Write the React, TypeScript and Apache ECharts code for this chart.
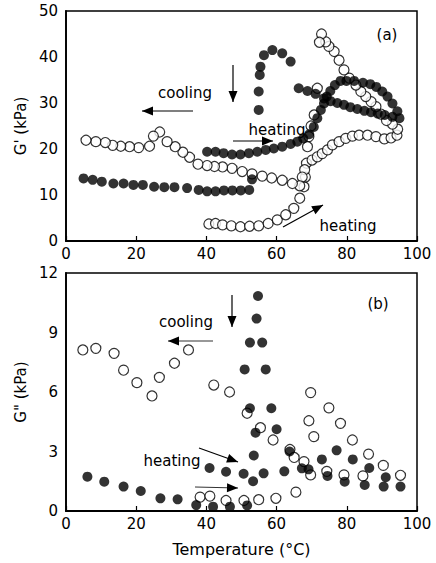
import React, { useEffect, useRef } from "react";
import * as echarts from "echarts";

// Tick values
const temperatureTicks = [0, 20, 40, 60, 80, 100];
const gPrimeTicks = [0, 10, 20, 30, 40, 50];
const gDoublePrimeTicks = [0, 3, 6, 9, 12];

// Panel (a) G' (kPa) vs temperature (°C)
const aOpenHeating: [number, number][] = [
  [40.7, 3.7], [42.6, 3.8], [44.6, 3.5], [47.1, 3.3], [49.7, 3.1], [52.3, 3.2], [54.9, 3.3],
  [57.6, 3.8], [60.2, 4.6], [62.6, 5.7], [64.9, 7.1], [66.6, 9.3], [67.8, 11.8], [68.2, 13.9],
  [68.5, 16.9], [70.1, 17.6], [71.6, 18.3], [73.0, 19.0], [74.5, 19.8], [75.9, 20.9], [77.8, 21.6],
  [79.7, 22.3], [81.6, 22.8], [83.5, 23.0], [85.9, 23.0], [88.3, 22.7], [90.7, 22.2], [92.6, 22.4],
  [94.3, 23.0],
];
const aOpenCooling: [number, number][] = [
  [94.5, 24.3], [93.0, 25.4], [91.3, 26.2], [89.7, 27.6], [88.3, 29.2], [86.9, 30.3], [85.4, 31.4],
  [84.0, 32.5], [82.6, 33.9], [80.7, 35.4], [79.2, 37.2], [77.8, 39.3], [76.4, 41.2], [74.9, 42.3],
  [74.0, 43.3], [72.8, 45.0], [72.2, 43.2], [71.6, 33.2], [70.7, 27.4], [69.8, 25.0], [69.2, 22.7],
  [68.8, 20.5], [68.0, 15.5], [67.3, 13.9], [66.6, 12.0], [64.5, 12.5], [61.6, 13.2], [58.6, 13.7],
  [55.9, 14.1], [53.0, 14.6], [50.2, 15.1], [47.3, 15.8], [44.6, 16.1], [42.3, 16.2], [40.2, 16.4],
  [37.6, 16.7], [35.2, 18.2], [33.3, 19.3], [31.1, 20.5], [28.8, 21.6], [26.7, 23.7], [24.9, 22.8],
  [23.8, 20.6], [20.7, 20.3], [18.1, 20.5], [15.6, 20.6], [13.3, 20.8], [11.2, 21.4], [8.5, 21.6],
  [5.7, 21.9],
];
const aFilledHeating: [number, number][] = [
  [40.2, 19.4], [42.6, 19.4], [44.9, 19.1], [47.3, 18.8], [49.7, 18.8], [52.1, 19.1], [54.5, 19.4],
  [56.9, 19.8], [59.2, 20.1], [61.6, 20.5], [64.0, 21.1], [65.9, 21.6], [67.6, 22.3], [69.3, 23.2],
  [70.6, 24.8], [71.6, 26.7], [72.6, 28.5], [73.5, 29.9], [74.3, 31.4], [75.3, 32.6], [76.6, 33.9],
  [78.2, 34.8], [79.9, 34.8], [82.1, 34.8], [84.6, 34.4], [86.7, 34.1], [88.4, 33.5], [90.1, 32.5],
  [91.6, 31.4], [93.0, 29.9], [94.4, 28.2],
];
const aFilledCooling: [number, number][] = [
  [95.0, 26.7], [93.0, 27.0], [90.8, 27.4], [88.8, 27.7], [86.9, 28.0], [85.0, 28.3], [83.0, 28.7],
  [81.0, 29.1], [79.2, 29.6], [77.3, 30.0], [75.4, 30.4], [73.5, 31.0], [71.1, 32.0], [68.8, 32.6],
  [66.3, 33.2], [64.0, 39.0], [61.6, 40.8], [58.8, 41.5], [56.4, 40.4], [55.4, 37.9], [55.2, 36.1],
  [54.9, 32.5], [54.9, 28.5], [53.0, 13.4], [52.2, 11.1], [49.8, 11.0], [47.4, 11.0], [45.0, 11.0],
  [42.6, 10.8], [40.2, 10.8], [37.8, 11.1], [34.5, 11.5], [30.9, 11.7], [28.0, 11.7], [25.1, 11.8],
  [21.9, 12.2], [19.2, 12.2], [16.4, 12.5], [13.5, 12.5], [10.2, 12.9], [7.6, 13.3], [5.0, 13.6],
];

// Panel (b) G" (kPa) vs temperature (°C)
const bOpen: [number, number][] = [
  [4.8, 8.12], [8.5, 8.2], [13.7, 7.95], [16.4, 7.1], [20.2, 6.47], [24.5, 5.8], [26.6, 6.74],
  [30.9, 7.45], [34.9, 8.12], [42.1, 6.35], [46.6, 6.0], [51.6, 4.93], [55.4, 4.2], [59.0, 3.58],
  [63.8, 3.1], [65.0, 2.7], [67.8, 2.49], [69.7, 1.82], [74.3, 2.0], [79.2, 1.82], [84.6, 1.77],
  [90.4, 2.3], [95.3, 1.8], [69.7, 5.97], [74.9, 5.2], [69.2, 4.55], [78.2, 4.42], [70.6, 3.75],
  [81.6, 3.58], [86.2, 2.87], [38.2, 0.7], [41.0, 0.75], [45.6, 0.53], [50.7, 0.53], [54.9, 0.57],
  [59.8, 0.64], [65.5, 0.95],
];
const bFilled: [number, number][] = [
  [6.1, 1.73], [10.9, 1.48], [16.4, 1.23], [21.3, 1.01], [26.9, 0.64], [31.8, 0.59], [37.1, 0.3],
  [41.9, 0.22], [46.7, 0.22], [51.6, 0.28], [40.9, 2.17], [45.6, 1.98], [50.6, 1.88], [53.3, 1.5],
  [53.5, 2.8], [54.0, 3.95], [52.4, 5.18], [50.9, 7.14], [52.4, 8.49], [54.3, 9.7], [54.7, 10.84],
  [55.9, 8.49], [56.9, 7.14], [58.5, 5.18], [60.0, 4.12], [56.3, 1.9], [62.2, 2.0], [63.7, 3.0],
  [67.2, 2.15], [69.1, 2.1], [72.9, 2.6], [74.5, 1.77], [77.1, 3.06], [79.4, 1.48], [81.7, 2.6],
  [85.1, 1.31], [86.4, 2.17], [90.5, 1.23], [91.1, 1.7], [95.3, 1.23],
];

const FONT = "'DejaVu Sans', Arial, sans-serif";

function arrowHead(tx: number, ty: number, fx: number, fy: number, len = 11, half = 4.5) {
  const dx = tx - fx;
  const dy = ty - fy;
  const d = Math.hypot(dx, dy);
  const ux = dx / d;
  const uy = dy / d;
  const bx = tx - ux * len;
  const by = ty - uy * len;
  return {
    type: "polygon",
    shape: { points: [[tx, ty], [bx - uy * half, by + ux * half], [bx + uy * half, by - ux * half]] },
    style: { fill: "#000" },
  };
}
function arrow(fx: number, fy: number, tx: number, ty: number, color = "#000") {
  return [
    { type: "line", shape: { x1: fx, y1: fy, x2: tx, y2: ty }, style: { stroke: color, lineWidth: 1.2 } },
    arrowHead(tx, ty, fx, fy),
  ];
}
function label(text: string, x: number, y: number, size = 15) {
  return {
    type: "text",
    x,
    y,
    style: { text, fontSize: size, fontFamily: FONT, fill: "#000", align: "center", verticalAlign: "middle" },
  };
}

export default function App() {
  const ref = useRef<HTMLDivElement>(null);
  useEffect(() => {
    if (!ref.current) return;
    const chart = echarts.init(ref.current, undefined, { renderer: "svg" });
    const openStyle = { color: "#fff", borderColor: "#000", borderWidth: 1.2 };
    const filledStyle = { color: "#000" };
    const axisLabel = { color: "#000", fontSize: 15, fontFamily: FONT };
    const xAxisBase = {
      type: "value",
      min: temperatureTicks[0],
      max: temperatureTicks[temperatureTicks.length - 1],
      interval: temperatureTicks[1] - temperatureTicks[0],
      axisLine: { show: true, lineStyle: { color: "#000", width: 1.8 } },
      axisTick: { show: true, inside: true, length: 5, lineStyle: { color: "#000", width: 1.2 } },
      axisLabel: { ...axisLabel, margin: 5 },
      splitLine: { show: false },
    };
    const yAxisBase = {
      type: "value",
      nameLocation: "middle",
      nameRotate: 90,
      nameGap: 31,
      nameTextStyle: { color: "#000", fontSize: 15, fontFamily: FONT },
      axisLine: { show: true, lineStyle: { color: "#000", width: 1.8 } },
      axisTick: { show: false },
      axisLabel: { ...axisLabel, margin: 8 },
      splitLine: { show: false },
    };
    const sym = { type: "scatter", symbol: "circle", symbolSize: 10 };
    chart.setOption({
      animation: false,
      backgroundColor: "#fff",
      grid: [
        { left: 66, top: 11, width: 351, height: 230, show: true, borderColor: "#000", borderWidth: 1.5 },
        { left: 66, top: 273, width: 351, height: 238, show: true, borderColor: "#000", borderWidth: 1.5 },
      ],
      xAxis: [
        { ...xAxisBase, gridIndex: 0 },
        {
          ...xAxisBase,
          gridIndex: 1,
          name: "Temperature (°C)",
          nameLocation: "middle",
          nameGap: 30,
          nameTextStyle: { color: "#000", fontSize: 16, fontFamily: FONT },
        },
      ],
      yAxis: [
        {
          ...yAxisBase,
          gridIndex: 0,
          name: "G' (kPa)",
          min: gPrimeTicks[0],
          max: gPrimeTicks[gPrimeTicks.length - 1],
          interval: gPrimeTicks[1] - gPrimeTicks[0],
        },
        {
          ...yAxisBase,
          gridIndex: 1,
          name: 'G" (kPa)',
          min: gDoublePrimeTicks[0],
          max: gDoublePrimeTicks[gDoublePrimeTicks.length - 1],
          interval: gDoublePrimeTicks[1] - gDoublePrimeTicks[0],
        },
      ],
      series: [
        { ...sym, name: "a open heating", xAxisIndex: 0, yAxisIndex: 0, data: aOpenHeating, itemStyle: openStyle },
        { ...sym, name: "a open cooling", xAxisIndex: 0, yAxisIndex: 0, data: aOpenCooling, itemStyle: openStyle },
        { ...sym, name: "a filled heating", xAxisIndex: 0, yAxisIndex: 0, data: aFilledHeating, itemStyle: filledStyle },
        { ...sym, name: "a filled cooling", xAxisIndex: 0, yAxisIndex: 0, data: aFilledCooling, itemStyle: filledStyle },
        { ...sym, name: "b open", xAxisIndex: 1, yAxisIndex: 1, data: bOpen, itemStyle: openStyle },
        { ...sym, name: "b filled", xAxisIndex: 1, yAxisIndex: 1, data: bFilled, itemStyle: filledStyle },
      ],
      graphic: [
        // panel (a)
        label("(a)", 387, 35),
        label("cooling", 185, 93),
        ...arrow(193, 111, 142, 111),
        ...arrow(233, 65, 233, 102),
        label("heating", 277, 130),
        ...arrow(233, 141, 273, 141),
        label("heating", 348, 226),
        ...arrow(283, 227, 323, 205),
        // panel (b)
        label("(b)", 378, 304),
        label("cooling", 186, 322),
        ...arrow(213, 341, 168, 341, "#333"),
        ...arrow(232, 295, 232, 327),
        label("heating", 172, 461),
        ...arrow(199, 448, 238, 462),
        ...arrow(195, 487, 238, 488, "#333"),
      ],
    });
    return () => chart.dispose();
  }, []);
  return (
    <div
      ref={ref}
      style={{ position: "absolute", left: 0, top: 0, width: 436, height: 563, background: "#fff" }}
    />
  );
}
